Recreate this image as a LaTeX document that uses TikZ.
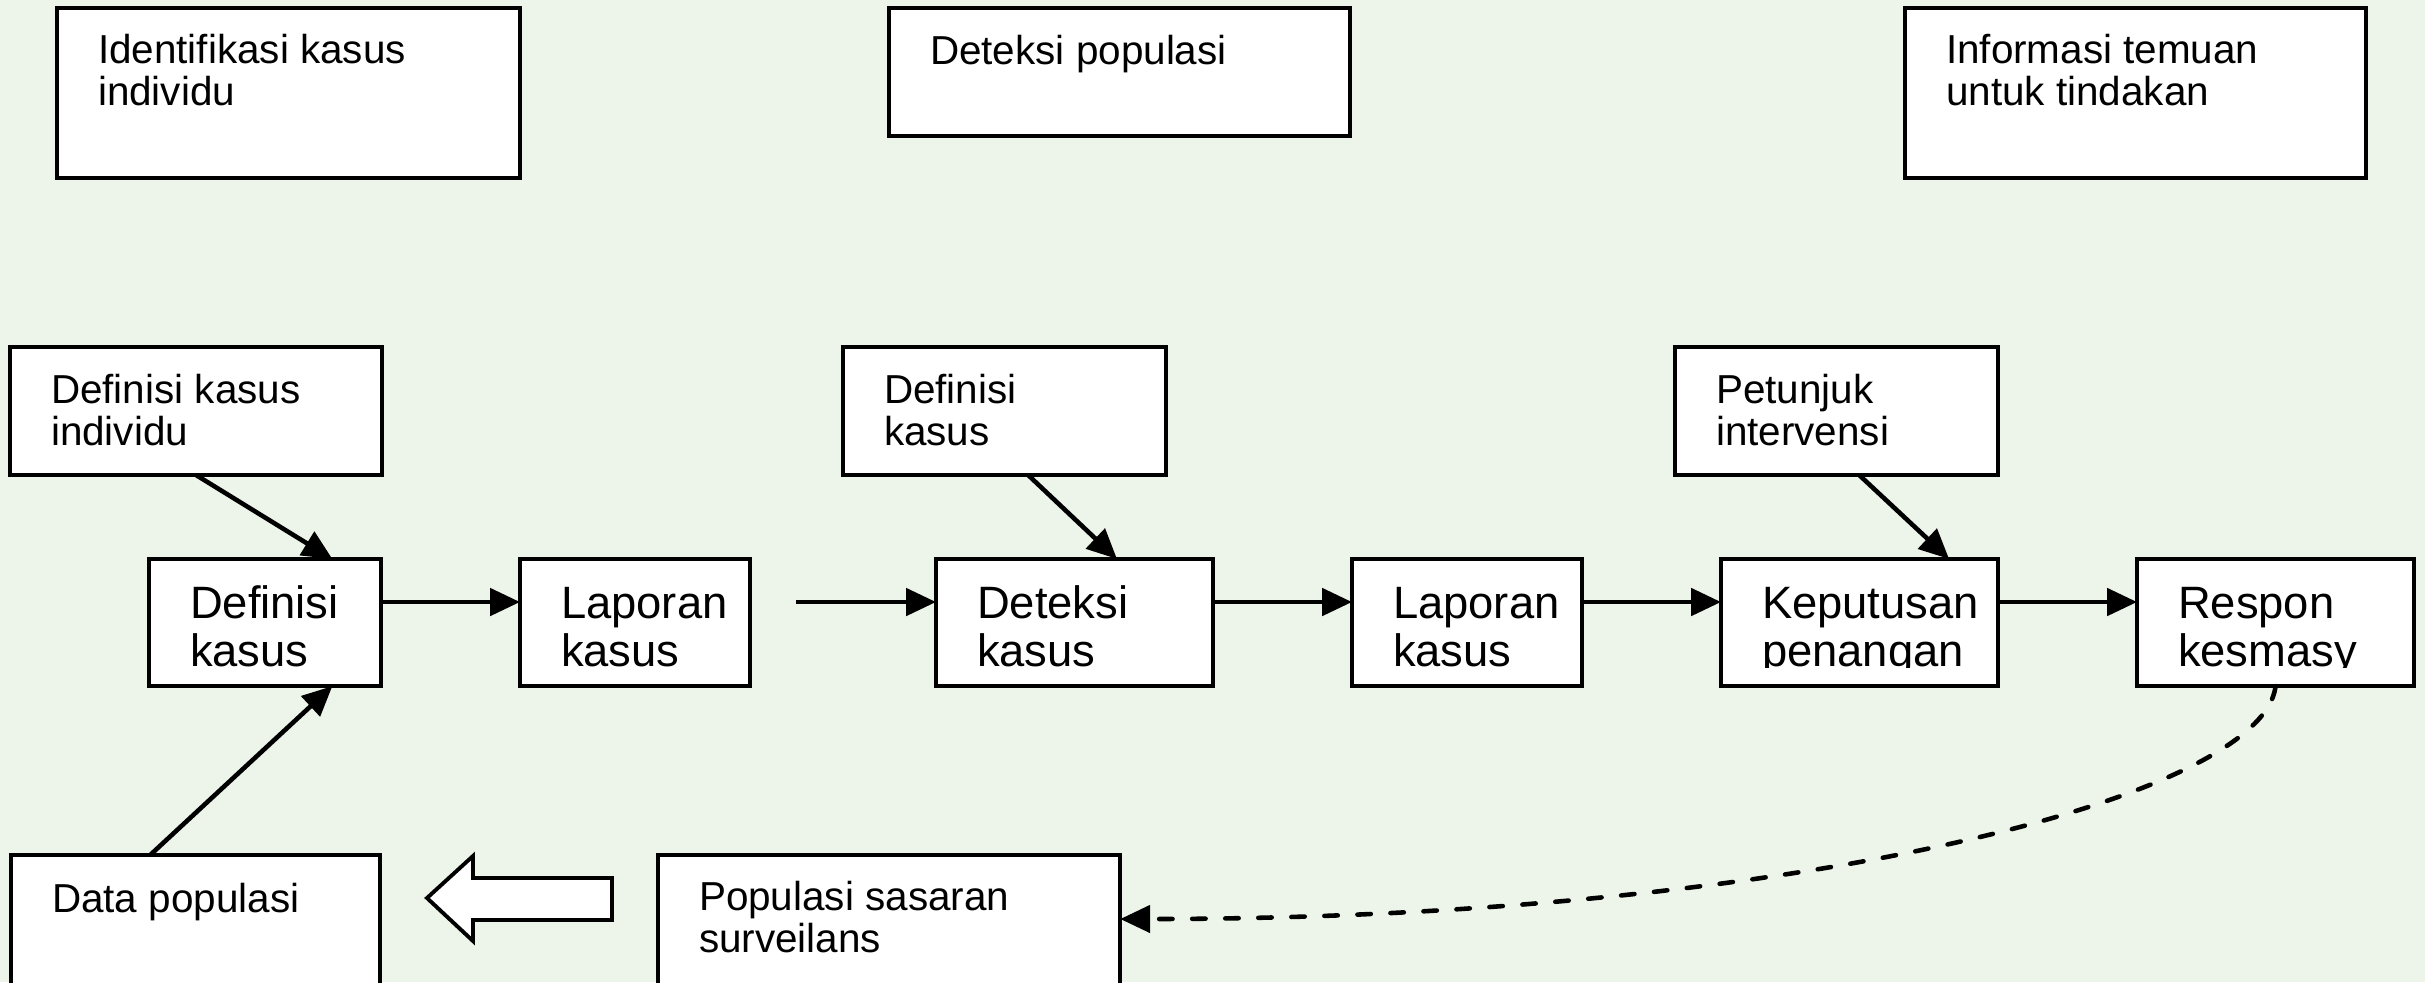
\documentclass[tikz,border=0pt]{standalone}
\usepackage{fontspec}
\setmainfont{Liberation Sans}
\usetikzlibrary{arrows.meta,calc}
\definecolor{bgcol}{RGB}{237,245,234}
% box text: width, height, first baseline, text (top left, fixed inset)
\newcommand{\inbox}[4]{\parbox[c][#2][t]{#1}{\raggedright\leftskip=0.41cm\relax\rule{0pt}{#3}#4}}
\tikzset{
  box/.style={draw=black, line width=1.1pt, fill=white, inner sep=0pt, outer sep=0pt, anchor=north west},
  smalltxt/.style={font=\fontsize{11.5}{12.2}\selectfont},
  bigtxt/.style={font=\fontsize{12.9}{13.7}\selectfont},
  arr/.style={line width=1.3pt, -{Triangle[length=8.5pt,width=7.7pt]}},
  dasharr/.style={arr, dash pattern=on 3.8pt off 5.6pt, line cap=round},
}
\begin{document}
\begin{tikzpicture}[x=0.01cm, y=-0.01cm]
\useasboundingbox (0,0) rectangle (2425,982);
\fill[bgcol] (0,0) rectangle (2425,982);
\clip (0,0) rectangle (2425,982);

% headings
\node[box, smalltxt] (ident) at (57,8) {\inbox{4.63cm}{1.70cm}{0.55cm}{Identifikasi kasus\\individu}};
\node[box, smalltxt] (detpop) at (889,8) {\inbox{4.61cm}{1.28cm}{0.56cm}{Deteksi populasi}};
\node[box, smalltxt] (info) at (1905,8) {\inbox{4.61cm}{1.70cm}{0.55cm}{Informasi temuan\\untuk tindakan}};

% inputs
\node[box, smalltxt] (defind) at (10,347) {\inbox{3.72cm}{1.28cm}{0.56cm}{Definisi kasus\\individu}};
\node[box, smalltxt] (defmid) at (843,347) {\inbox{3.23cm}{1.28cm}{0.56cm}{Definisi\\kasus}};
\node[box, smalltxt] (petunjuk) at (1675,347) {\inbox{3.23cm}{1.28cm}{0.56cm}{Petunjuk\\intervensi}};

% main chain
\node[box, bigtxt] (defk) at (149,559) {\inbox{2.32cm}{1.27cm}{0.59cm}{Definisi\\kasus}};
\node[box, bigtxt] (lap1) at (520,559) {\inbox{2.30cm}{1.27cm}{0.59cm}{Laporan\\kasus}};
\node[box, bigtxt] (detk) at (936,559) {\inbox{2.77cm}{1.27cm}{0.59cm}{Deteksi\\kasus}};
\node[box, bigtxt] (lap2) at (1352,559) {\inbox{2.30cm}{1.27cm}{0.59cm}{Laporan\\kasus}};
\node[box, bigtxt] (kep) at (1721,559) {\inbox{2.77cm}{1.27cm}{0.59cm}{Keputusan\\penangan}};
\node[box, bigtxt] (resp) at (2137,559) {\inbox{2.77cm}{1.27cm}{0.59cm}{Respon\\kesmasy}};
% text is cut just below the second baseline
\foreach \b in {kep,resp}
  \fill[white] ($(\b.south west)+(3,-3)$) rectangle ($(\b.south east)+(-3,-18)$);

% bottom row
\node[box, smalltxt] (datapop) at (11,855) {\inbox{3.69cm}{1.45cm}{0.57cm}{Data populasi}};
\node[box, smalltxt] (popsas) at (658,855) {\inbox{4.62cm}{1.45cm}{0.55cm}{Populasi sasaran\\surveilans}};

% hollow block arrow pointing left
\draw[line width=1.1pt, fill=white, line join=miter]
  (427,898) -- (473,856) -- (473,878) -- (612,878) -- (612,920)
  -- (473,920) -- (473,941) -- cycle;

% connectors
\draw[arr] (defind.south) -- ($(defk.north west)!0.79!(defk.north east)$);
\draw[arr] ($(datapop.north west)!0.377!(datapop.north east)$) -- ($(defk.south west)!0.79!(defk.south east)$);
\draw[arr] ($(defmid.south west)!0.573!(defmid.south east)$) -- ($(detk.north west)!0.653!(detk.north east)$);
\draw[arr] ($(petunjuk.south west)!0.57!(petunjuk.south east)$) -- ($(kep.north west)!0.823!(kep.north east)$);

\draw[arr] ([yshift=-0.43cm]defk.north east) -- ([yshift=-0.43cm]lap1.north west);
\coordinate (gap) at ([xshift=0.46cm,yshift=-0.43cm]lap1.north east);
\draw[arr] (gap) -- ([yshift=-0.43cm]detk.north west);
\draw[arr] ([yshift=-0.43cm]detk.north east) -- ([yshift=-0.43cm]lap2.north west);
\draw[arr] ([yshift=-0.43cm]lap2.north east) -- ([yshift=-0.43cm]kep.north west);
\draw[arr] ([yshift=-0.43cm]kep.north east) -- ([yshift=-0.43cm]resp.north west);

\draw[dasharr] (resp.south) .. controls (2262,800) and (1780,919) .. ($(popsas.north east)+(0,64)$);
\end{tikzpicture}
\end{document}
